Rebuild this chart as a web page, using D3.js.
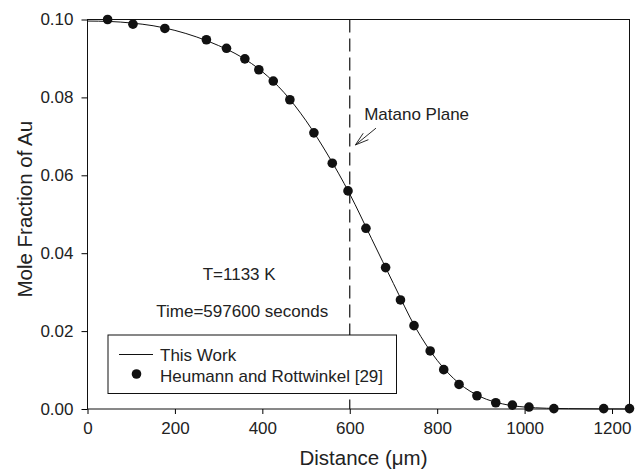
<!DOCTYPE html>
<html>
<head>
<meta charset="utf-8">
<script src="https://cdn.jsdelivr.net/npm/d3@7"></script>
<style>
  body { margin: 0; background: #fff; }
  text { font-family: "Liberation Sans", Arial, sans-serif; fill: #222; }
</style>
</head>
<body>
<div id="chart"></div>
<script>
// measured points (Heumann and Rottwinkel [29])
const pointX = [46, 104, 177, 272, 318, 360, 392, 425, 463, 518, 560, 596, 637, 682, 716, 747, 784, 815, 850, 891, 934, 972, 1010, 1067, 1181, 1240]
const pointY = [0.1000, 0.0988, 0.0977, 0.0948, 0.0926, 0.0899, 0.0871, 0.0842, 0.0794, 0.0709, 0.0631, 0.0560, 0.0464, 0.0363, 0.0280, 0.0214, 0.0149, 0.0101, 0.0063, 0.0034, 0.0016, 0.0010, 0.0005, 0.0001, 0.0001, 0.0001]

// model curve (This Work)
const lineX = [0, 50, 100, 150, 200, 250, 300, 350, 400, 450, 500, 550, 600, 650, 700, 750, 800, 850, 900, 950, 1000, 1050, 1100, 1240]
const lineY = [0.0996, 0.0995, 0.0991, 0.0984, 0.0972, 0.0955, 0.0933, 0.0905, 0.0866, 0.0812, 0.0740, 0.0652, 0.0552, 0.0437, 0.0322, 0.0210, 0.0125, 0.0066, 0.0031, 0.0013, 0.0005, 0.0002, 0.0001, 0.0000]

const xTicks = [0, 200, 400, 600, 800, 1000, 1200]
const yTicks = [0.00, 0.02, 0.04, 0.06, 0.08, 0.10]
const matanoX = 600

const margin = {top: 19.5, right: 6.5, bottom: 61, left: 87.5},
    width = 636 - margin.left - margin.right,
    height = 470 - margin.top - margin.bottom;

const svg = d3.select("#chart")
    .append("svg")
    .attr("width", 636)
    .attr("height", 470)
    .append("g")
    .attr("transform", `translate(${margin.left},${margin.top})`);

const x = d3.scaleLinear().domain([0, 1240]).range([0, width]);
const y = d3.scaleLinear().domain([0, 0.10]).range([height, 0]);

// frame
svg.append("rect")
    .attr("width", width)
    .attr("height", height)
    .attr("fill", "none")
    .attr("stroke", "#111")
    .attr("stroke-width", 1);

svg.append("g")
    .attr("transform", `translate(0, ${height})`)
    .call(d3.axisBottom(x).tickValues(xTicks).tickSize(5).tickPadding(8).tickFormat(d3.format("d")))
    .call(g => g.select(".domain").remove())
    .call(g => g.selectAll("text").style("font-size", "17px").attr("fill", "#222"));

svg.append("g")
    .call(d3.axisLeft(y).tickValues(yTicks).tickSize(6).tickPadding(8).tickFormat(d3.format(".2f")))
    .call(g => g.select(".domain").remove())
    .call(g => g.selectAll("text").style("font-size", "17px").attr("fill", "#222"));

// axis titles
svg.append("text")
    .attr("text-anchor", "middle")
    .attr("x", width / 2 + 5)
    .attr("y", height + 56)
    .style("font-size", "20.5px")
    .text("Distance (\u03bcm)");

svg.append("text")
    .attr("text-anchor", "middle")
    .attr("transform", "rotate(-90)")
    .attr("x", -(height / 2) + 5)
    .attr("y", -56)
    .style("font-size", "20.5px")
    .text("Mole Fraction of Au");

// Matano plane
svg.append("line")
    .attr("x1", x(matanoX)).attr("x2", x(matanoX))
    .attr("y1", 0).attr("y2", height)
    .attr("stroke", "#111")
    .attr("stroke-width", 1.2)
    .attr("stroke-dasharray", "13,6");

const line = d3.line()
    .x((d, i) => x(lineX[i]))
    .y(d => y(d))
    .curve(d3.curveMonotoneX);

svg.append("path")
    .datum(lineY)
    .attr("d", line)
    .attr("fill", "none")
    .attr("stroke", "#111")
    .attr("stroke-width", 1);

svg.append("g")
    .selectAll("circle")
    .data(pointY)
    .join("circle")
    .attr("cx", (d, i) => x(pointX[i]))
    .attr("cy", d => y(d))
    .attr("r", 4.8)
    .attr("fill", "#111");

// annotations
svg.append("text")
    .attr("x", x(633))
    .attr("y", y(0.0741))
    .style("font-size", "17px")
    .text("Matano Plane");

const tip = [x(613), y(0.0678)], tail = [x(660), y(0.0721)];
const ang = Math.atan2(tail[1] - tip[1], tail[0] - tip[0]);
const arrow = svg.append("g").attr("stroke", "#111").attr("stroke-width", 0.9).attr("fill", "none");
arrow.append("line").attr("x1", tail[0]).attr("y1", tail[1]).attr("x2", tip[0]).attr("y2", tip[1]);
[-0.3, 0.3].forEach(a => {
    arrow.append("line")
        .attr("x1", tip[0]).attr("y1", tip[1])
        .attr("x2", tip[0] + 14 * Math.cos(ang + a))
        .attr("y2", tip[1] + 14 * Math.sin(ang + a));
});

svg.append("text")
    .attr("text-anchor", "middle")
    .attr("x", x(347))
    .attr("y", y(0.0331))
    .style("font-size", "17px")
    .text("T=1133 K");

svg.append("text")
    .attr("text-anchor", "middle")
    .attr("x", x(354))
    .attr("y", y(0.0237))
    .style("font-size", "17px")
    .text("Time=597600 seconds");

// legend
const legend = svg.append("g").attr("transform", `translate(${108 - margin.left},${335 - margin.top})`);
legend.append("rect")
    .attr("width", 288.5)
    .attr("height", 58.5)
    .attr("fill", "#fff")
    .attr("stroke", "#111")
    .attr("stroke-width", 1);
legend.append("line")
    .attr("x1", 11).attr("x2", 45)
    .attr("y1", 19.5).attr("y2", 19.5)
    .attr("stroke", "#111");
legend.append("text")
    .attr("x", 52).attr("y", 25.5)
    .style("font-size", "17px")
    .text("This Work");
legend.append("circle")
    .attr("cx", 28.5).attr("cy", 39)
    .attr("r", 4.8)
    .attr("fill", "#111");
legend.append("text")
    .attr("x", 52).attr("y", 46.5)
    .style("font-size", "17px")
    .text("Heumann and Rottwinkel [29]");
</script>
</body>
</html>
